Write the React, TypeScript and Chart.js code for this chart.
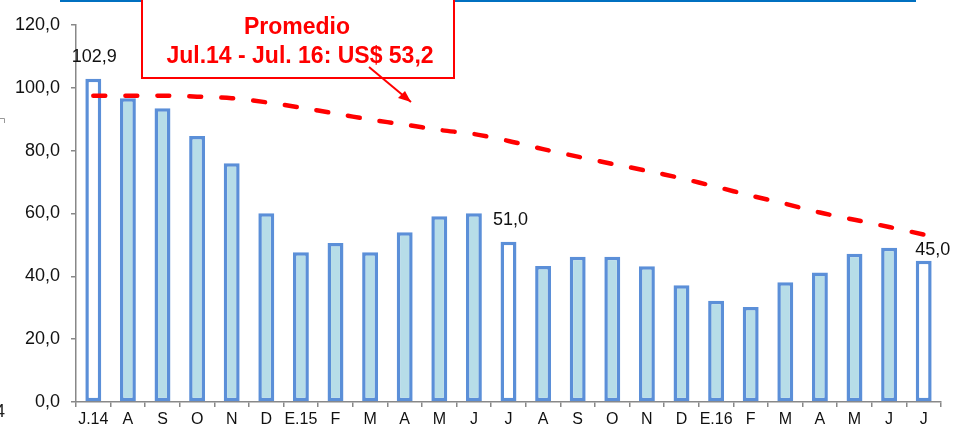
import React, { useEffect, useRef } from "react";
import { Chart, registerables } from "chart.js";

Chart.register(...registerables);

const categories = ["J.14", "A", "S", "O", "N", "D", "E.15", "F", "M", "A", "M", "J", "J", "A", "S", "O", "N", "D", "E.16", "F", "M", "A", "M", "J", "J"];
const prices = [102.9, 96.7, 93.5, 84.7, 76.0, 60.1, 47.7, 50.6, 47.7, 54.0, 59.1, 60.1, 51.0, 43.3, 46.2, 46.2, 43.2, 37.2, 32.2, 30.2, 38.1, 41.2, 47.2, 49.1, 45.0];
const movingAverage = [97.5, 97.5, 97.5, 97.2, 96.7, 95.4, 93.7, 91.8, 89.9, 88.3, 86.6, 85.3, 83.1, 80.5, 78.1, 75.8, 73.6, 71.2, 68.5, 65.7, 63.1, 60.3, 58.0, 55.7, 53.3];
const highlightedIndexes = [0, 12, 24];
const yTicks = [0, 20, 40, 60, 80, 100, 120];
const boxTitle = "Promedio";
const boxSubtitle = "Jul.14 - Jul. 16: US$ 53,2";

const fmt = (v: number) => v.toFixed(1).replace(".", ",");
const FONT = "'Liberation Sans', Arial, sans-serif";

const overlayPlugin = {
  id: "overlay",
  afterDatasetsDraw(chart: any) {
    const ctx = chart.ctx;
    const meta = chart.getDatasetMeta(1);
    ctx.save();
    ctx.fillStyle = "#111";
    ctx.font = `18px ${FONT}`;
    ctx.textAlign = "center";
    ctx.textBaseline = "middle";
    const offsets: Record<number, [number, number]> = { 0: [1, -22], 12: [2, -22], 24: [9, -11] };
    highlightedIndexes.forEach((i) => {
      const el = meta.data[i];
      const [dx, dy] = offsets[i] || [0, -20];
      ctx.fillText(fmt(prices[i]), el.x + dx, el.y + dy);
    });
    ctx.restore();
  },
  afterDraw(chart: any) {
    const ctx = chart.ctx;
    ctx.save();
    // top blue rule
    ctx.strokeStyle = "#0070C0";
    ctx.lineWidth = 2;
    ctx.beginPath();
    ctx.moveTo(60, 1);
    ctx.lineTo(916, 1);
    ctx.stroke();
    // annotation box
    ctx.fillStyle = "#fff";
    ctx.fillRect(142, -5, 312, 83);
    ctx.strokeStyle = "#FF0000";
    ctx.lineWidth = 2;
    ctx.strokeRect(142, -5, 312, 83);
    ctx.fillStyle = "#FF0000";
    ctx.font = `bold 23px ${FONT}`;
    ctx.textAlign = "center";
    ctx.textBaseline = "alphabetic";
    ctx.fillText(boxTitle, 297, 34);
    ctx.fillText(boxSubtitle, 300, 63);
    // arrow
    ctx.lineWidth = 2;
    ctx.beginPath();
    ctx.moveTo(369, 67);
    ctx.lineTo(411, 102);
    ctx.stroke();
    ctx.beginPath();
    ctx.moveTo(411, 102);
    ctx.lineTo(398, 98);
    ctx.lineTo(405, 91);
    ctx.closePath();
    ctx.fill();
    // cut-off fragments at left edge
    ctx.fillStyle = "#222";
    ctx.font = `18px ${FONT}`;
    ctx.textAlign = "left";
    ctx.textBaseline = "middle";
    ctx.fillText("4", -5, 412);
    ctx.strokeStyle = "#999";
    ctx.lineWidth = 1;
    ctx.beginPath();
    ctx.moveTo(0, 118.5);
    ctx.lineTo(4.5, 118.5);
    ctx.lineTo(4.5, 123);
    ctx.stroke();
    ctx.restore();
  },
};

export default function App() {
  const ref = useRef<HTMLCanvasElement>(null);
  useEffect(() => {
    document.body.style.margin = "0";
    const canvas = ref.current!;
    const chart = new Chart(canvas, {
      type: "bar",
      data: {
        labels: categories,
        datasets: [
          {
            type: "line",
            data: movingAverage,
            borderColor: "#FF0000",
            borderWidth: 4.5,
            borderDash: [12, 20],
            borderCapStyle: "round",
            pointRadius: 0,
            tension: 0.3,
            fill: false,
            order: 0,
          } as any,
          {
            type: "bar",
            data: prices,
            backgroundColor: (c: any) => (highlightedIndexes.includes(c.dataIndex) ? "#FFFFFF" : "#B7DDE8"),
            borderColor: "#5B8FD8",
            borderWidth: 3.5,
            borderSkipped: false,
            categoryPercentage: 1,
            barPercentage: 0.46,
            order: 1,
          } as any,
        ],
      },
      options: {
        animation: false,
        responsive: false,
        devicePixelRatio: 1,
        layout: { padding: { top: 25, right: 12, left: 0, bottom: 0 } },
        plugins: { legend: { display: false }, tooltip: { enabled: false } },
        scales: {
          x: {
            offset: true,
            grid: { display: true, drawOnChartArea: false, drawTicks: true, tickLength: 5, offset: true, color: "#888", lineWidth: 1.5 },
            border: { display: true, color: "#888", width: 1.5 },
            ticks: { color: "#111", font: { family: FONT, size: 16 }, padding: 3, maxRotation: 0, autoSkip: false },
            afterFit: (s: any) => { s.height = 31; },
          },
          y: {
            min: 0,
            max: 120,
            afterBuildTicks: (s: any) => { s.ticks = yTicks.map((v) => ({ value: v })); },
            grid: { display: true, drawOnChartArea: false, drawTicks: true, tickLength: 5, color: "#888", lineWidth: 1.5 },
            border: { display: true, color: "#888", width: 1.5 },
            ticks: { color: "#111", font: { family: FONT, size: 18 }, padding: 11, callback: (v: any) => fmt(Number(v)) },
            afterFit: (s: any) => { s.width = 76; },
          },
        },
      },
      plugins: [overlayPlugin],
    });
    return () => chart.destroy();
  }, []);
  return <canvas ref={ref} width={953} height={433} style={{ display: "block", width: 953, height: 433 }} />;
}
